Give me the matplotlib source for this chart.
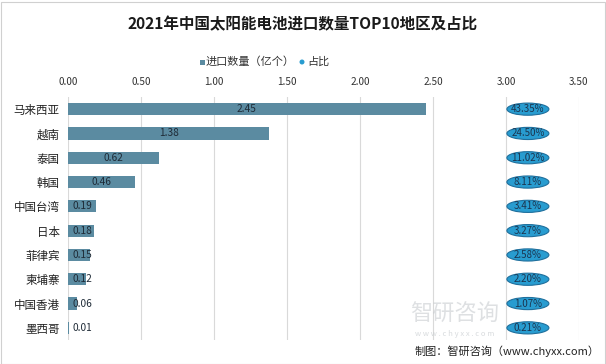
import matplotlib
matplotlib.use("Agg")
import matplotlib.pyplot as plt
from matplotlib.patches import Ellipse, Rectangle

plt.rcParams['font.family'] = ['Noto Sans CJK SC', 'DejaVu Sans']

regions = ["马来西亚", "越南", "泰国", "韩国", "中国台湾", "日本", "菲律宾", "柬埔寨", "中国香港", "墨西哥"]
quantity = [2.45, 1.38, 0.62, 0.46, 0.19, 0.18, 0.15, 0.12, 0.06, 0.01]
share = ["43.35%", "24.50%", "11.02%", "8.11%", "3.41%", "3.27%", "2.58%", "2.20%", "1.07%", "0.21%"]
xticks = [0.0, 0.5, 1.0, 1.5, 2.0, 2.5, 3.0, 3.5]

title = "2021年中国太阳能电池进口数量TOP10地区及占比"
legend_bar = "进口数量（亿个）"
legend_dot = "占比"
source = "制图：智研咨询（www.chyxx.com）"

bar_color = "#5B8BA1"
dot_color = "#289CD0"
dot_edge = "#1F6F9C"
share_col = 3.15  # x position of the share column

fig = plt.figure(figsize=(6.06, 3.64), dpi=100)
fig.patch.set_facecolor("white")
ax = fig.add_axes([68/606, 1-340/364, (579-68)/606, (340-97)/364])

y = list(range(len(regions)))
ax.barh(y, quantity, height=0.5, color=bar_color, zorder=2)
ax.set_xlim(0, 3.5)
ax.set_ylim(len(regions)-0.5, -0.5)
ax.set_yticks(y)
ax.set_yticklabels(regions, fontsize=8.3, color="#222222")
ax.set_xticks(xticks)
ax.set_xticklabels([f"{t:.2f}" for t in xticks], fontsize=7.2, color="#333333")
ax.xaxis.tick_top()
ax.tick_params(axis='x', length=0, pad=7)
ax.tick_params(axis='y', length=0, pad=6)
for s in ax.spines.values():
    s.set_visible(False)
ax.grid(axis='x', color="#D9D9D9", linewidth=0.8, zorder=0)
ax.set_axisbelow(True)

# bar value labels
px_per_unit = (579-68)/3.5
for yi, v in zip(y, quantity):
    txt = f"{v:.2f}"
    half_w = 11/px_per_unit
    cx = v/2
    if cx - half_w < 0.03:
        ax.text(0.03, yi, txt, ha='left', va='center', fontsize=7.3, color="#1E2A36", zorder=4)
    else:
        ax.text(cx, yi, txt, ha='center', va='center', fontsize=7.3, color="#1E2A36", zorder=4)

# share ellipses
ew = 42/px_per_unit
eh = 0.5
for yi, s in zip(y, share):
    e = Ellipse((share_col, yi), ew, eh, facecolor=dot_color, edgecolor=dot_edge, linewidth=0.8, zorder=3)
    ax.add_patch(e)
    ax.text(share_col, yi, s, ha='center', va='center', fontsize=7, color="#1B3550", zorder=4)

# title
fig.text(0.5, 1-24/364, title, ha='center', va='center', fontsize=11.2, fontweight='bold', color="#1a1a1a")

# legend
ly = 1-62/364
fig.patches.append(Rectangle((200/606, ly-2.5/364), 5/606, 5/364, transform=fig.transFigure,
                             facecolor=bar_color, edgecolor='none'))
fig.text(206/606, ly, legend_bar, ha='left', va='center', fontsize=8, color="#333333")
fig.patches.append(Ellipse((302/606, ly), 5/606, 5/364, transform=fig.transFigure,
                           facecolor=dot_color, edgecolor='none'))
fig.text(307/606, ly, legend_dot, ha='left', va='center', fontsize=8, color="#333333")

# watermark
fig.text(455/606, 1-314/364, "智研咨询", ha='center', va='center', fontsize=16, color="#C8CCD0", alpha=0.6, zorder=0)
fig.text(455/606, 1-334/364, "w w w . c h y x x . c o m", ha='center', va='center', fontsize=5.5, color="#C8CCD0", alpha=0.7)

# source
fig.text(600/606, 1-351/364, source, ha='right', va='center', fontsize=8, color="#222222")

# border
fig.patches.append(Rectangle((0.5/606, 0.5/364), 604/606, 362/364, transform=fig.transFigure,
                             facecolor='none', edgecolor="#D0D0D0", linewidth=0.8))

fig.savefig("out.png", dpi=100)
